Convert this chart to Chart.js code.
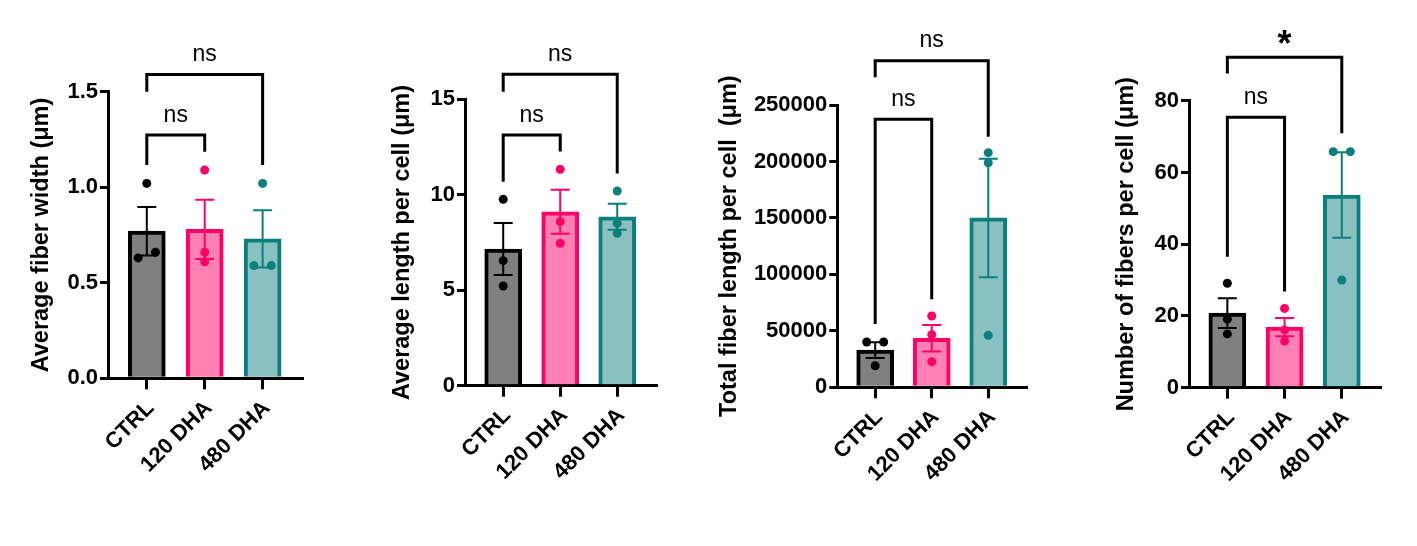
<!DOCTYPE html>
<html>
<head>
<meta charset="utf-8">
<script src="https://cdn.jsdelivr.net/npm/chart.js@4.4.0/dist/chart.umd.min.js"></script>
<style>
html, body { margin: 0; padding: 0; background: #fff; }
#wrap { position: relative; width: 1417px; height: 546px; overflow: hidden; }
canvas { position: absolute; top: 0; }
</style>
</head>
<body>
<div id="wrap">
  <canvas id="c1" width="330" height="546" style="left:0px"></canvas>
  <canvas id="c2" width="370" height="546" style="left:330px"></canvas>
  <canvas id="c3" width="360" height="546" style="left:700px"></canvas>
  <canvas id="c4" width="357" height="546" style="left:1060px"></canvas>
</div>
<script>
// groups on the x axis
const groups = ['CTRL', '120 DHA', '480 DHA'];

// panel 1: average fiber width
const widthMean = [0.77, 0.78, 0.73];
const widthSem = [0.127, 0.155, 0.15];
const widthPoints = [[1.02, 0.63, 0.66], [1.09, 0.66, 0.61], [1.02, 0.59, 0.59]];
const widthTicks = [0, 0.5, 1.0, 1.5];

// panel 2: average length per cell
const lengthMean = [7.16, 9.11, 8.85];
const lengthSem = [1.36, 1.15, 0.68];
const lengthPoints = [[9.76, 6.55, 5.22], [11.33, 8.59, 7.46], [10.2, 8.5, 7.98]];
const lengthTicks = [0, 5, 10, 15];

// panel 3: total fiber length per cell
const totalMean = [33000, 43400, 150000];
const totalSem = [6950, 11800, 52500];
const totalPoints = [[40100, 40100, 19100], [63100, 46600, 22700], [207800, 198900, 46000]];
const totalTicks = [0, 50000, 100000, 150000, 200000, 250000];

// panel 4: number of fibers per cell
const countMean = [20.8, 16.9, 53.7];
const countSem = [4.15, 2.55, 11.9];
const countPoints = [[29.1, 19.1, 15.0], [22.1, 16.1, 13.0], [65.8, 65.8, 30.0]];
const countTicks = [0, 20, 40, 60, 80];

// comparisons: [from, to, bracket top, left foot, right foot, label]
const widthBrackets = [[0, 2, 1.59, 1.5, 1.116, 'ns'], [0, 1, 1.273, 1.116, 1.186, 'ns']];
const lengthBrackets = [[0, 2, 16.31, 15.4, 11.12, 'ns'], [0, 1, 13.13, 10.68, 12.26, 'ns']];
const totalBrackets = [[0, 2, 289200, 274500, 221900, 'ns'], [0, 1, 237300, 56100, 77900, 'ns']];
const countBrackets = [[0, 2, 92.1, 87.6, 70.9, '*'], [0, 1, 75.4, 36.5, 26.8, 'ns']];

const fills = ['#808080', '#ff80b3', '#88c1bf'];
const lines = ['#000000', '#ff0066', '#0b7f7b'];
const FONT = "'Liberation Sans', Arial, sans-serif";

// spread dots that would sit on top of each other
function spreadDots(vals, max) {
  const xs = vals.map(() => 0);
  for (let a = 0; a < vals.length; a++) {
    for (let b = a + 1; b < vals.length; b++) {
      if (Math.abs(vals[a] - vals[b]) < 0.03 * max) {
        const lo = vals[a] <= vals[b] ? a : b;
        const hi = lo === a ? b : a;
        xs[lo] = -0.15;
        xs[hi] = 0.15;
      }
    }
  }
  return xs;
}

const errorBars = {
  id: 'errorBars',
  afterDatasetDraw(chart, args) {
    const ds = chart.data.datasets[args.index];
    if (!ds.sem) return;
    const ctx = chart.ctx, x = chart.scales.x, y = chart.scales.y;
    ctx.save();
    ctx.lineWidth = 2;
    ds.data.forEach((p, i) => {
      const px = x.getPixelForValue(p.x);
      const top = y.getPixelForValue(p.y + ds.sem[i]);
      const bot = y.getPixelForValue(p.y - ds.sem[i]);
      ctx.strokeStyle = lines[i];
      ctx.beginPath();
      ctx.moveTo(px, top); ctx.lineTo(px, bot);
      ctx.moveTo(px - 9.5, top); ctx.lineTo(px + 9.5, top);
      ctx.moveTo(px - 9.5, bot); ctx.lineTo(px + 9.5, bot);
      ctx.stroke();
    });
    ctx.restore();
  }
};

const brackets = {
  id: 'brackets',
  afterDraw(chart, args, opts) {
    const ctx = chart.ctx, x = chart.scales.x, y = chart.scales.y;
    ctx.save();
    ctx.strokeStyle = '#000';
    ctx.fillStyle = '#000';
    ctx.lineWidth = 3;
    ctx.lineCap = 'butt';
    (opts.list || []).forEach(b => {
      const x1 = x.getPixelForValue(b[0]), x2 = x.getPixelForValue(b[1]);
      const yt = y.getPixelForValue(b[2]);
      ctx.beginPath();
      ctx.moveTo(x1, y.getPixelForValue(b[3]));
      ctx.lineTo(x1, yt);
      ctx.lineTo(x2, yt);
      ctx.lineTo(x2, y.getPixelForValue(b[4]));
      ctx.stroke();
      ctx.font = b[5] === '*' ? 'bold 36px ' + FONT : '23px ' + FONT;
      ctx.textAlign = 'center';
      ctx.textBaseline = 'alphabetic';
      const m = ctx.measureText(b[5]);
      const cy = yt - 20;
      ctx.fillText(b[5], (x1 + x2) / 2, cy + (m.actualBoundingBoxAscent - m.actualBoundingBoxDescent) / 2);
    });
    ctx.restore();
  }
};

function makePanel(id, p) {
  const datasets = [{
    type: 'bar',
    data: p.mean.map((v, i) => ({ x: i, y: v })),
    sem: p.sem,
    backgroundColor: fills,
    borderColor: lines,
    borderWidth: 4,
    borderSkipped: 'start',
    barThickness: 37,
    order: 3
  }];
  p.points.forEach((vals, g) => {
    const dx = spreadDots(vals, p.ticks[p.ticks.length - 1]);
    datasets.push({
      type: 'scatter',
      data: vals.map((v, k) => ({ x: g + dx[k], y: v })),
      pointRadius: 4.5,
      pointHoverRadius: 4.5,
      pointBackgroundColor: lines[g],
      pointBorderWidth: 0,
      order: 1
    });
  });

  const tickFont = { family: FONT, size: 22, weight: 'bold' };
  new Chart(document.getElementById(id), {
    type: 'bar',
    data: { datasets: datasets },
    options: {
      responsive: false,
      animation: false,
      events: [],
      layout: { padding: { left: p.padL, right: p.padR, top: p.padT, bottom: 0 } },
      plugins: {
        legend: { display: false },
        tooltip: { enabled: false },
        brackets: { list: p.brackets }
      },
      scales: {
        x: {
          type: 'linear',
          offset: false,
          min: -0.67,
          max: 2.68,
          afterBuildTicks: s => { s.ticks = [0, 1, 2].map(v => ({ value: v })); },
          afterFit: s => { s.height = p.xH; },
          ticks: {
            callback: v => groups[v],
            autoSkip: false,
            maxRotation: 45,
            minRotation: 45,
            font: tickFont,
            color: '#000',
            padding: 6,
            labelOffset: 4
          },
          grid: { offset: false, drawOnChartArea: false, color: '#000', lineWidth: 3, tickLength: 11 },
          border: { color: '#000', width: 3 }
        },
        y: {
          min: 0,
          max: p.ticks[p.ticks.length - 1],
          afterBuildTicks: s => { s.ticks = p.ticks.map(v => ({ value: v })); },
          afterFit: s => { s.width = p.yW; },
          ticks: {
            callback: v => p.decimals ? v.toFixed(p.decimals) : String(v),
            font: tickFont,
            color: '#000',
            padding: 2
          },
          grid: { drawOnChartArea: false, color: '#000', lineWidth: 3, tickLength: 8 },
          border: { color: '#000', width: 3 },
          title: {
            display: true,
            text: p.title,
            color: '#000',
            font: { family: FONT, size: 23.5, weight: 'bold' },
            padding: { top: 4, bottom: 4 }
          }
        }
      }
    },
    plugins: [errorBars, brackets]
  });
}

makePanel('c1', {
  mean: widthMean, sem: widthSem, points: widthPoints, ticks: widthTicks, decimals: 1,
  brackets: widthBrackets, title: 'Average fiber width (\u03bcm)',
  padL: 23, yW: 85, padR: 28, padT: 91.7, xH: 167.7
});
makePanel('c2', {
  mean: lengthMean, sem: lengthSem, points: lengthPoints, ticks: lengthTicks, decimals: 0,
  brackets: lengthBrackets, title: 'Average length per cell (\u03bcm)',
  padL: 54, yW: 81, padR: 44, padT: 99.3, xH: 160.3
});
makePanel('c3', {
  mean: totalMean, sem: totalSem, points: totalPoints, ticks: totalTicks, decimals: 0,
  brackets: totalBrackets, title: 'Total fiber length per cell  (\u03bcm)',
  padL: 11, yW: 126.3, padR: 33.3, padT: 105, xH: 158.7
});
makePanel('c4', {
  mean: countMean, sem: countSem, points: countPoints, ticks: countTicks, decimals: 0,
  brackets: countBrackets, title: 'Number of fibers per cell (\u03bcm)',
  padL: 48.5, yW: 80.5, padR: 36.3, padT: 100.7, xH: 158.3
});
</script>
</body>
</html>
